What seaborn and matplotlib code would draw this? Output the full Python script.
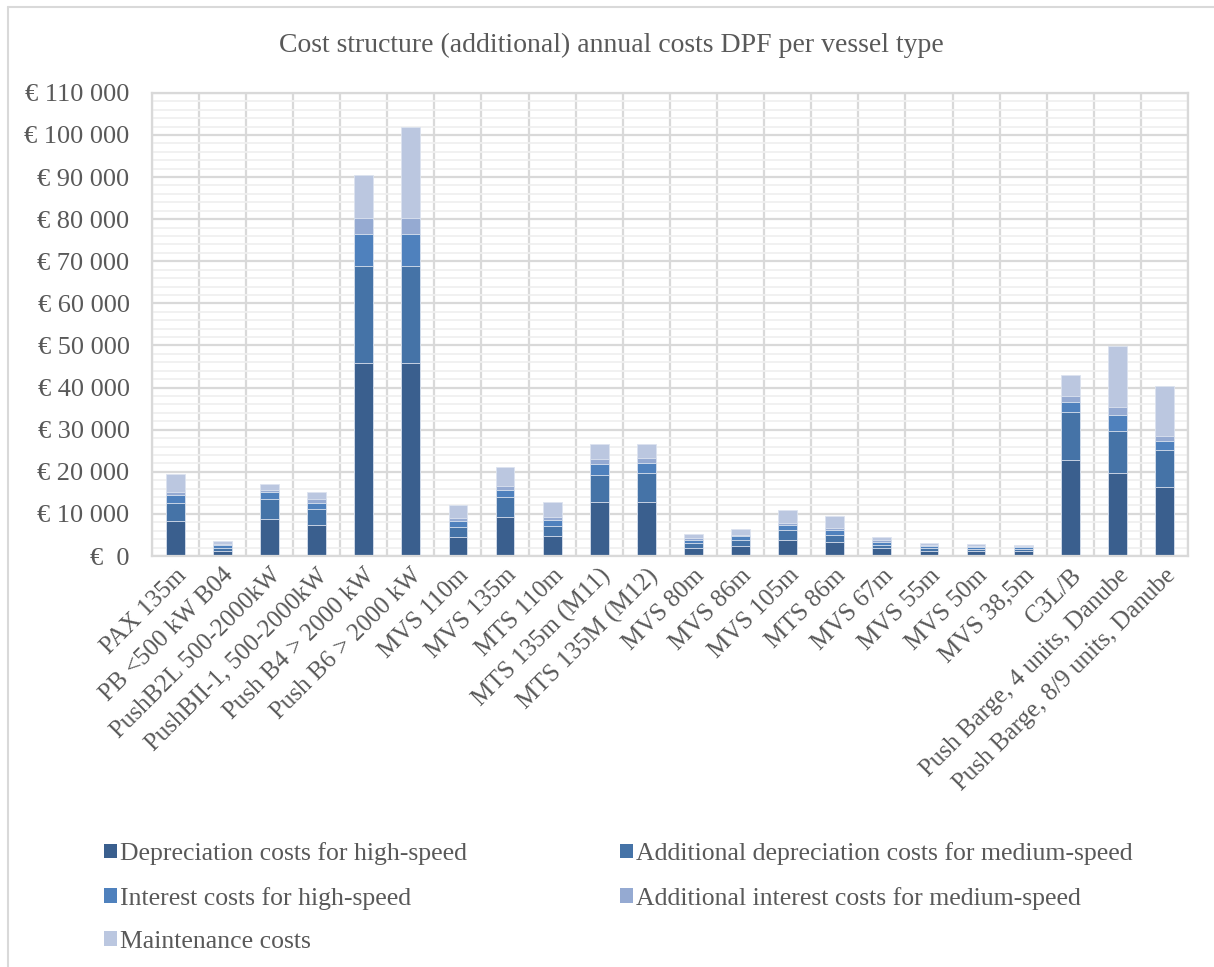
import numpy as np
import matplotlib.pyplot as plt
import seaborn as sns
from matplotlib.ticker import MultipleLocator, FuncFormatter
from matplotlib.patches import Patch
from matplotlib.lines import Line2D

# vessel types
vessels = ["PAX 135m", "PB <500 kW B04", "PushB2L 500-2000kW", "PushBII-1, 500-2000kW",
           "Push B4 > 2000 kW", "Push B6 > 2000 kW", "MVS 110m", "MVS 135m", "MTS 110m",
           "MTS 135m (M11)", "MTS 135M (M12)", "MVS 80m", "MVS 86m", "MVS 105m", "MTS 86m",
           "MVS 67m", "MVS 55m", "MVS 50m", "MVS 38,5m", "C3L/B",
           "Push Barge, 4 units, Danube", "Push Barge, 8/9 units, Danube"]

# cost components (EUR per year)
dep_high = [8200, 1200, 8900, 7300, 45800, 45800, 4500, 9300, 4700, 12900, 12900,
            1800, 2300, 3900, 3300, 1800, 1200, 1200, 1100, 22800, 19700, 16500]
add_dep_medium = [4300, 800, 4600, 3800, 23000, 23000, 2500, 4800, 2400, 6400, 6700,
                  1200, 1400, 2300, 1700, 800, 600, 500, 500, 11400, 9900, 8600]
int_high = [1900, 500, 1600, 1600, 7600, 7600, 1300, 1600, 1500, 2600, 2500,
            800, 1000, 1200, 1200, 800, 500, 500, 500, 2400, 3800, 2300]
add_int_medium = [900, 400, 600, 800, 3800, 3800, 700, 900, 700, 1200, 1200,
                  500, 400, 500, 400, 300, 300, 200, 200, 1300, 2000, 1200]
maintenance = [4100, 700, 1500, 1700, 10300, 21800, 3100, 4600, 3500, 3500, 3400,
               900, 1400, 3000, 2900, 900, 600, 500, 400, 5200, 14400, 11700]

labels = ["Depreciation costs for high-speed", "Additional depreciation costs for medium-speed",
          "Interest costs for high-speed", "Additional interest costs for medium-speed",
          "Maintenance costs"]
colors = ["#3A5F8E", "#4573A7", "#4F81BD", "#95AAD2", "#BBC7E0"]

series = [dep_high, add_dep_medium, int_high, add_int_medium, maintenance]
cum = np.cumsum(np.array(series), axis=0)

sns.set_theme(style="white")
plt.rcParams["font.family"] = ["Liberation Serif", "DejaVu Serif"]
text_col = "#595959"

fig = plt.figure(figsize=(12.14, 9.67), dpi=100)
ax = fig.add_axes([0.125, 0.425, 0.8536, 0.479])

# stacked bars: draw the cumulative totals from the top down
for i in range(len(series) - 1, -1, -1):
    sns.barplot(x=vessels, y=cum[i], order=vessels, color=colors[i], saturation=1,
                width=0.4, errorbar=None, edgecolor="#dce3ef", linewidth=0.6, ax=ax)

ax.set_xlim(-0.5, len(vessels) - 0.5)
ax.set_ylim(0, 110000)
ax.yaxis.set_major_locator(MultipleLocator(10000))
ax.yaxis.set_minor_locator(MultipleLocator(2000))
ax.set_xticks(np.arange(-0.5, len(vessels)), minor=True)

def euro(v, pos):
    if v == 0:
        return "€  0"
    return "€ " + f"{int(v):,}".replace(",", " ")
ax.yaxis.set_major_formatter(FuncFormatter(euro))

ax.set_axisbelow(True)
ax.yaxis.grid(True, which="minor", color="#f0f0f0", lw=1.3)
ax.yaxis.grid(True, which="major", color="#d9d9d9", lw=1.6)
ax.xaxis.grid(True, which="minor", color="#d9d9d9", lw=1.6)
ax.xaxis.grid(False, which="major")
for s in ax.spines.values():
    s.set_color("#d9d9d9")
    s.set_linewidth(1.6)

ax.tick_params(axis="both", which="both", length=0, colors=text_col)
ax.tick_params(axis="y", labelsize=19, pad=16)
ax.tick_params(axis="x", labelsize=18, pad=6)
plt.setp(ax.get_xticklabels(), rotation=45, ha="right", rotation_mode="anchor")
ax.set_xlabel("")
ax.set_ylabel("")

fig.text(0.504, 0.953, "Cost structure (additional) annual costs DPF per vessel type",
         ha="center", va="center", fontsize=20, color=text_col)

# legend, row-major order in two columns
order = [0, 2, 4, 1, 3]
handles = [Patch(facecolor=colors[i], edgecolor="none") for i in order]
fig.legend(handles, [labels[i] for i in order], loc="upper left",
           bbox_to_anchor=(0.0857, 0.129), ncol=2, frameon=False, fontsize=18.5,
           borderpad=0, borderaxespad=0,
           handlelength=0.5, handleheight=0.5, handletextpad=0.12,
           columnspacing=5.95, labelspacing=0.83, labelcolor=text_col)

# chart area frame (left and top edges visible)
fig.add_artist(Line2D([0.0066, 0.0066], [0, 0.993], color="#d9d9d9", lw=1.5))
fig.add_artist(Line2D([0.0066, 1.0], [0.993, 0.993], color="#d9d9d9", lw=1.5))

fig.savefig("out.png", dpi=100)
